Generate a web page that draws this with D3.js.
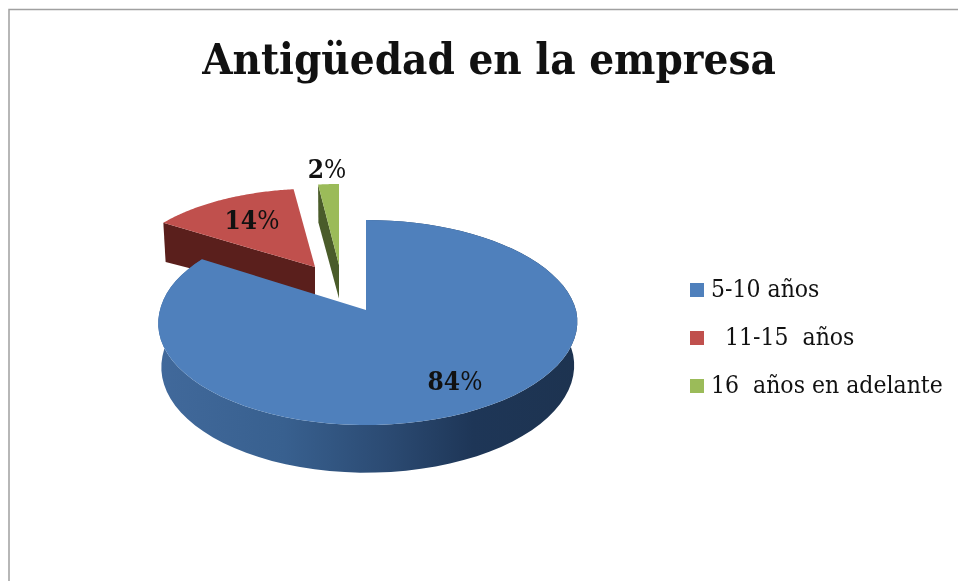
<!DOCTYPE html>
<html>
<head>
<meta charset="utf-8">
<script src="https://cdn.jsdelivr.net/npm/d3@7"></script>
<style>
html,body{margin:0;padding:0;background:#fff;overflow:hidden;}
svg{filter:blur(0.5px);}
text{font-family:"DejaVu Serif Condensed","DejaVu Serif",serif;fill:#111;white-space:pre;}
.title{font-size:43.5px;font-weight:bold;}
.legend text{font-size:24.5px;}
.lab{font-size:26px;}
.lab .num{font-weight:bold;}
</style>
</head>
<body>
<div id="plot"></div>
<script>
//Data
var categories = ['5-10 años','  11-15  años','16  años en adelante'],
	values = [84,14,2],
	chartTitle = 'Antigüedad en la empresa';

//Colours for each slice: top face, side wall
var topColors = ['#4f80bc','#c0504d','#9bbb59'],
	wallColors = ['url(#wallBlue)','#5a1f1c','#4a5c2a'];

//Set up a drawing environment
var W = 958, H = 581;
var svg = d3.select('#plot').append('svg')
	.attr('width',W)
	.attr('height',H)
	.style('display','block');

//Frame, only top and left edges show in the crop
svg.append('path')
	.attr('d','M9,581V9.5H958')
	.attr('fill','none')
	.attr('stroke','#a0a0a0')
	.attr('stroke-width',1.5);

svg.append('text').attr('class','title')
	.attr('x',489)
	.attr('y',74)
	.attr('text-anchor','middle')
	.text(chartTitle);

//Wall gradient for the big slice
var grad = svg.append('defs').append('linearGradient')
	.attr('id','wallBlue')
	.attr('gradientUnits','userSpaceOnUse')
	.attr('x1',158).attr('x2',578).attr('y1',0).attr('y2',0);
[[0,'#41699b'],[0.3,'#38608f'],[0.55,'#2b4a72'],[0.75,'#1e3657'],[1,'#1d3350']].forEach(function(s){
	grad.append('stop').attr('offset',s[0]).attr('stop-color',s[1]);
});

//Pie layout gives the angles, the disc is then tilted with a small perspective
var pie = d3.pie().sort(null).value(function(d){return d}).startAngle(0).endAngle(Math.PI*2);
var arcs = pie(values);

var R = 208, TILT = 101, PERSP = 0.122, DEPTH = 44;
//apex of each slice on the page, scale of the slice, depth of the wall
var layout = [
	{x:366,y:310,sx:1,sy:1,d:DEPTH,rimShift:2},
	{x:315,y:267,sx:0.92,sy:0.87,d:DEPTH*0.95,rimShift:0},
	{x:339,y:265,sx:0.9,sy:0.9,d:DEPTH*0.95,rimShift:0}
];

function project(a,r,l,down){
	var u = Math.sin(a)*r, v = Math.cos(a)*r;
	var q = 1 + PERSP*v;
	var shrink = down ? 0.985 : 1;
	return [
		l.x + l.rimShift*r*(1-Math.abs(v)) + l.sx*R*shrink*u/q,
		l.y - l.sy*TILT*shrink*v/q + (down ? l.d*shrink/q : 0)
	];
}

var line = d3.line();

function arcPoints(a0,a1,l,down){
	return d3.range(0,81).map(function(i){
		return project(a0+(a1-a0)*i/80,1,l,down);
	});
}

var order = [1,2,0]; //blue is drawn last, it covers the feet of the other two
var slices = svg.selectAll('.slice')
	.data(order)
	.enter()
	.append('g').attr('class','slice');

slices.append('path').attr('class','wall')
	.attr('fill',function(i){return wallColors[i]})
	.attr('d',function(i){
		var a = arcs[i], l = layout[i];
		if(i===0){
			//outer rim
			return line(arcPoints(a.startAngle,a.endAngle,l,false)
				.concat(arcPoints(a.startAngle,a.endAngle,l,true).reverse()))+'Z';
		}
		//radial cut facing the viewer
		return line([
			project(a.startAngle,1,l,false),
			project(a.startAngle,1,l,true),
			[l.x,l.y+l.d*0.8],
			[l.x,l.y]
		])+'Z';
	});

slices.append('path').attr('class','top')
	.attr('fill',function(i){return topColors[i]})
	.attr('d',function(i){
		var a = arcs[i], l = layout[i];
		return line([[l.x,l.y]].concat(arcPoints(a.startAngle,a.endAngle,l,false)))+'Z';
	});

//Data labels
var labelPos = [[455,390],[252,229],[327,178]];
var labs = svg.selectAll('.lab')
	.data(values)
	.enter()
	.append('text').attr('class','lab')
	.attr('text-anchor','middle')
	.attr('x',function(d,i){return labelPos[i][0]})
	.attr('y',function(d,i){return labelPos[i][1]});
labs.append('tspan').attr('class','num').text(function(d){return d});
labs.append('tspan').text('%');

//Legend
var legendY = d3.scalePoint().domain(categories).range([297,393]);
var legend = svg.selectAll('.legend')
	.data(categories)
	.enter()
	.append('g').attr('class','legend');
legend.append('rect')
	.attr('x',690)
	.attr('y',function(d){return legendY(d)-14})
	.attr('width',14)
	.attr('height',14)
	.attr('fill',function(d,i){return topColors[i]});
legend.append('text')
	.attr('x',711)
	.attr('y',function(d){return legendY(d)})
	.text(function(d){return d});
</script>
</body>
</html>
